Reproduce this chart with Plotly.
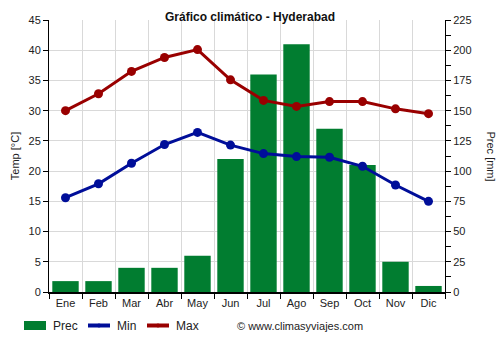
import plotly.graph_objects as go

months = ["Ene", "Feb", "Mar", "Abr", "May", "Jun", "Jul", "Ago", "Sep", "Oct", "Nov", "Dic"]
prec_mm = [9, 9, 20, 20, 30, 110, 180, 205, 135, 105, 25, 5]
temp_min = [15.6, 17.9, 21.3, 24.4, 26.4, 24.3, 22.9, 22.4, 22.3, 20.8, 17.7, 15.0]
temp_max = [30.0, 32.8, 36.5, 38.8, 40.1, 35.1, 31.7, 30.7, 31.5, 31.5, 30.3, 29.5]

GREEN, BLUE, RED = "#017D30", "#000E99", "#990000"

x = list(range(len(months)))
font = "Liberation Sans, Arial, sans-serif"
grid = "#d9d9d9"

# plot area in pixels, used to place the hand-drawn legend
L, R, T, B = 49, 445, 20, 292


def px(v):
    return (v - L) / (R - L)


def py(v):
    return (B - v) / (B - T)


fig = go.Figure()
# Precipitation on the primary (right-hand) axis so the temperature lines draw on top
fig.add_trace(go.Bar(x=x, y=prec_mm, name="Prec", marker_color=GREEN,
                     marker_line_width=0, width=0.8, yaxis="y", showlegend=False))
fig.add_trace(go.Scatter(x=x, y=temp_min, name="Min", mode="lines+markers",
                         line=dict(color=BLUE, width=3),
                         marker=dict(size=9, color=BLUE), yaxis="y2", showlegend=False))
fig.add_trace(go.Scatter(x=x, y=temp_max, name="Max", mode="lines+markers",
                         line=dict(color=RED, width=3),
                         marker=dict(size=9, color=RED), yaxis="y2", showlegend=False))

bounds = [i - 0.5 for i in range(len(months) + 1)]

# legend: swatches + labels below the plot
ly = 325.5
shapes = [
    dict(type="rect", xref="paper", yref="paper", x0=px(24), x1=px(46),
         y0=py(330), y1=py(321), fillcolor=GREEN, line_width=0),
]
annotations = []
for name, color, x0 in [("Min", BLUE, 88), ("Max", RED, 147)]:
    shapes.append(dict(type="line", xref="paper", yref="paper", x0=px(x0), x1=px(x0 + 22),
                       y0=py(ly), y1=py(ly), line=dict(color=color, width=4)))
    shapes.append(dict(type="circle", xref="paper", yref="paper",
                       x0=px(x0 + 9), x1=px(x0 + 13), y0=py(ly + 2), y1=py(ly - 2),
                       fillcolor=color, line_width=0))
for name, x0 in [("Prec", 51), ("Min", 115), ("Max", 174)]:
    annotations.append(dict(text=name, xref="paper", yref="paper", x=px(x0), y=py(ly),
                            xanchor="left", yanchor="middle", showarrow=False,
                            font=dict(size=12, color="#222")))

annotations += [
    dict(text="Prec [mm]", textangle=90, xref="paper", yref="paper",
         x=1.115, y=0.5, xanchor="center", yanchor="middle", showarrow=False,
         font=dict(size=11, color="#222")),
    dict(text="© www.climasyviajes.com", xref="paper", yref="paper",
         x=px(300), y=py(ly), xanchor="center", yanchor="middle",
         showarrow=False, font=dict(size=11, color="#222")),
]

fig.update_layout(
    width=500, height=350,
    margin=dict(l=L, r=500 - R, t=T, b=350 - B, autoexpand=False),
    plot_bgcolor="white", paper_bgcolor="white",
    font=dict(family=font, size=11, color="#222"),
    title=dict(text="<b>Gráfico climático - Hyderabad</b>", x=0.5, xanchor="center",
               y=1 - 17 / 350, yanchor="middle", font=dict(size=12, color="#111")),
    showlegend=False,
    xaxis=dict(range=[-0.5, 11.5], tickmode="array", tickvals=x, ticktext=months,
               ticks="", showgrid=False, showline=True, linecolor="black", linewidth=2,
               zeroline=False, automargin=False,
               minor=dict(tickmode="array", tickvals=bounds, ticks="outside", ticklen=5,
                          tickcolor="black", showgrid=True, gridcolor=grid)),
    yaxis=dict(range=[0, 225], dtick=25, side="right", automargin=False,
               ticks="outside", ticklen=5, tickcolor="black", showline=True,
               linecolor="black", linewidth=1, showgrid=False, zeroline=False,
               minor=dict(dtick=12.5, ticks="outside", ticklen=5, tickcolor="black",
                          showgrid=False)),
    yaxis2=dict(range=[0, 45], dtick=5, overlaying="y", side="left", automargin=False,
                ticks="outside", ticklen=5, tickcolor="black",
                showline=True, linecolor="black", linewidth=1,
                showgrid=True, gridcolor=grid, zeroline=False,
                title=dict(text="Temp [°C]", font=dict(size=11), standoff=6)),
    shapes=shapes,
    annotations=annotations,
)

fig.write_html("out.html")
